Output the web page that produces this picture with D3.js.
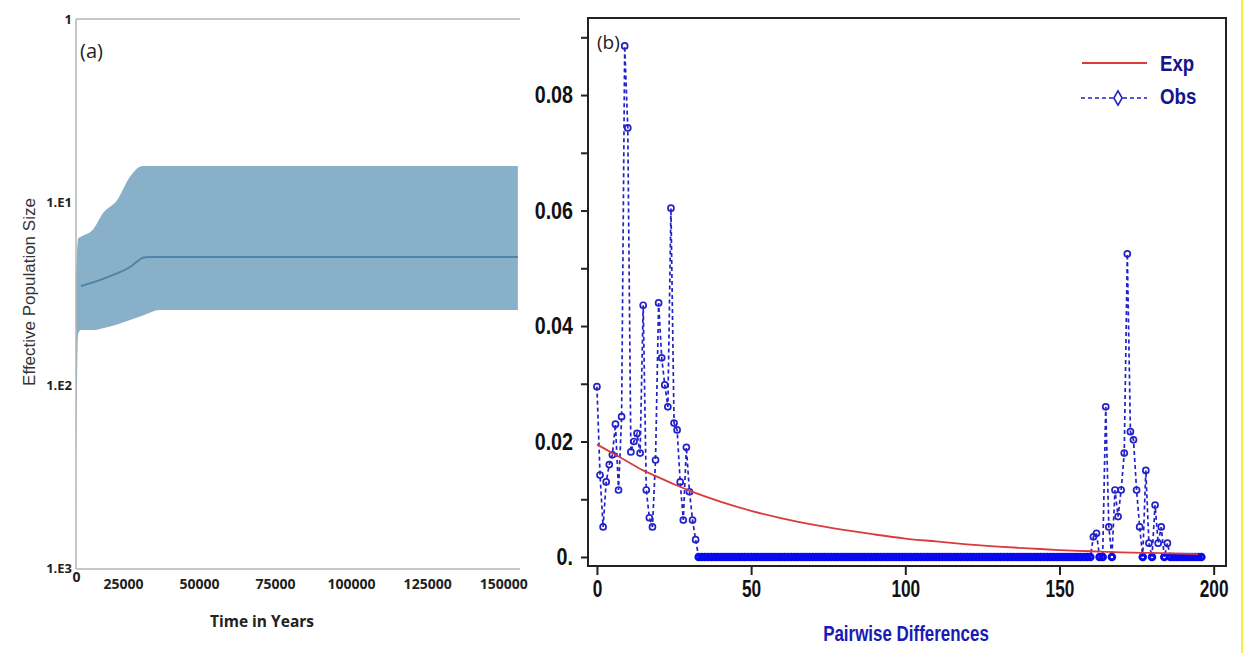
<!DOCTYPE html>
<html>
<head>
<meta charset="utf-8">
<script src="https://cdn.jsdelivr.net/npm/d3@7"></script>
<style>
  body { margin: 0; background: #fff; }
  svg { display: block; }
</style>
</head>
<body>
<div id="chart"></div>
<script>
// ---- panel (a): Bayesian skyline, y in log10 units ----
const skyYears = [0, 700, 1600, 5600, 8900, 13500, 17800, 22000, 27600, 145300];
const skyUpper = [1.40, 1.20, 1.19, 1.15, 1.06, 0.99, 0.86, 0.803, 0.803, 0.803];
const skyLower = [2.75, 1.72, 1.70, 1.70, 1.69, 1.67, 1.645, 1.62, 1.59, 1.59];
const medYears = [1600, 8900, 13500, 17800, 20500, 22000, 24000, 145300];
const medValues = [1.46, 1.42, 1.39, 1.355, 1.32, 1.305, 1.30, 1.30];
const skyYTicks = [0, 1, 2, 3];
const skyYLabels = ['1', '1.E1', '1.E2', '1.E3'];
const skyXTicks = [0, 25000, 50000, 75000, 100000, 125000, 150000];

// ---- panel (b): mismatch distribution ----
const obsHeadX = d3.range(0, 33);
const obsHead = [0.0295, 0.0142, 0.0052, 0.0130, 0.0160, 0.0177, 0.0230, 0.0116, 0.0243, 0.0885,
  0.0743, 0.0182, 0.0200, 0.0214, 0.0180, 0.0436, 0.0116, 0.0068, 0.0052, 0.0168,
  0.0440, 0.0345, 0.0298, 0.0260, 0.0604, 0.0232, 0.0220, 0.0130, 0.0064, 0.0190,
  0.0113, 0.0064, 0.0030];
const obsMidX = d3.range(33, 160);
const obsMid = [
  0, 0, 0, 0, 0, 0, 0, 0, 0, 0, 0, 0, 0, 0, 0, 0, 0, 0, 0, 0, 0, 0, 0, 0, 0, 0, 0, 0, 0, 0, 0, 0,
  0, 0, 0, 0, 0, 0, 0, 0, 0, 0, 0, 0, 0, 0, 0, 0, 0, 0, 0, 0, 0, 0, 0, 0, 0, 0, 0, 0, 0, 0, 0, 0,
  0, 0, 0, 0, 0, 0, 0, 0, 0, 0, 0, 0, 0, 0, 0, 0, 0, 0, 0, 0, 0, 0, 0, 0, 0, 0, 0, 0, 0, 0, 0, 0,
  0, 0, 0, 0, 0, 0, 0, 0, 0, 0, 0, 0, 0, 0, 0, 0, 0, 0, 0, 0, 0, 0, 0, 0, 0, 0, 0, 0, 0, 0, 0];
const obsTailX = d3.range(160, 197);
const obsTail = [0, 0.0035, 0.0041, 0, 0, 0.0260, 0.0052, 0, 0.0116, 0.0070,
  0.0116, 0.0180, 0.0525, 0.0217, 0.0203, 0.0116, 0.0052, 0, 0.0150, 0.0024,
  0, 0.0090, 0.0024, 0.0052, 0, 0.0024, 0, 0, 0, 0,
  0, 0, 0, 0, 0, 0, 0];
const expX = [0, 5, 10, 15, 20, 25, 30, 40, 50, 60, 70, 80, 90, 100, 110, 120, 130, 140, 150, 160, 170, 180, 195];
const expValues = [0.0195, 0.0180, 0.0165, 0.0150, 0.0138, 0.0126, 0.0115, 0.0096, 0.0080, 0.0067, 0.0056,
  0.0047, 0.0039, 0.0032, 0.0027, 0.0022, 0.0018, 0.0015, 0.0012, 0.0010, 0.0008, 0.0007, 0.0005];
const mmYTicks = [0, 0.01, 0.02, 0.03, 0.04, 0.05, 0.06, 0.07, 0.08, 0.09];
const mmXTicks = [0, 50, 100, 150, 200];

const width = 1249;
const height = 653;

const svg = d3.select('#chart')
  .append('svg')
  .attr('width', width)
  .attr('height', height);

svg.append('rect').attr('width', width).attr('height', height).attr('fill', '#fff');

// squeeze text horizontally to fake a narrow font (none installed)
function squeeze(sel, factor) {
  sel.each(function () {
    const w = this.getComputedTextLength();
    if (w > 0) {
      d3.select(this)
        .attr('textLength', w * factor)
        .attr('lengthAdjust', 'spacingAndGlyphs');
    }
  });
}

// ================= panel (a) =================
const xA = d3.scaleLinear().domain([0, 146000]).range([76, 520]);
const yA = d3.scaleLinear().domain([0, 3]).range([19, 568]);

const band = skyYears.map((t, i) => ({ t, hi: skyUpper[i], lo: skyLower[i] }));
const med = medYears.map((t, i) => ({ t, v: medValues[i] }));

svg.append('path')
  .datum(band)
  .attr('fill', '#88b0c9')
  .attr('d', d3.area()
    .x((d) => xA(d.t))
    .y0((d) => yA(d.lo))
    .y1((d) => yA(d.hi))
    .curve(d3.curveMonotoneX));

svg.append('path')
  .datum(med)
  .attr('fill', 'none')
  .attr('stroke', '#4f84a8')
  .attr('stroke-width', 2)
  .attr('d', d3.line()
    .x((d) => xA(d.t))
    .y((d) => yA(d.v))
    .curve(d3.curveMonotoneX));

// frame lines (light grey)
const frameA = svg.append('g').attr('stroke', '#b4b4b4').attr('stroke-width', 1.5);
frameA.append('line').attr('x1', 76).attr('x2', 520).attr('y1', yA(0)).attr('y2', yA(0));
frameA.append('line').attr('x1', 76).attr('x2', 76).attr('y1', yA(0)).attr('y2', 569);
frameA.append('line').attr('x1', 76).attr('x2', 520).attr('y1', 569).attr('y2', 569);

// y axis labels
const yAxisA = svg.append('g')
  .attr('transform', 'translate(76,0)')
  .call(d3.axisLeft(yA).tickValues(skyYTicks).tickSize(0).tickPadding(4)
    .tickFormat((d, i) => skyYLabels[i]));
yAxisA.select('.domain').remove();
yAxisA.selectAll('text')
  .attr('font-family', 'Open Sans, sans-serif')
  .attr('font-weight', 700)
  .attr('font-size', 13)
  .attr('fill', '#222');

// x axis labels
const xAxisA = svg.append('g')
  .attr('transform', 'translate(0,569)')
  .call(d3.axisBottom(xA).tickValues(skyXTicks).tickSize(0).tickPadding(10)
    .tickFormat(d3.format('d')));
xAxisA.select('.domain').remove();
xAxisA.selectAll('text')
  .attr('font-family', 'Open Sans, sans-serif')
  .attr('font-weight', 700)
  .attr('font-size', 14)
  .attr('fill', '#222')
  .attr('dx', (d) => (d === 0 ? 0 : -29))
  .attr('dy', (d) => (d === 0 ? '0.2em' : '0.71em'));

svg.append('text')
  .attr('x', 262).attr('y', 627)
  .attr('text-anchor', 'middle')
  .attr('font-family', 'Open Sans, sans-serif')
  .attr('font-weight', 700)
  .attr('font-size', 15.5)
  .attr('fill', '#222')
  .text('Time in Years');

svg.append('text')
  .attr('transform', 'translate(35,292) rotate(-90)')
  .attr('text-anchor', 'middle')
  .attr('font-family', 'Liberation Sans, Arial, sans-serif')
  .attr('font-size', 17)
  .attr('fill', '#333')
  .text('Effective Population Size');

svg.append('text')
  .attr('x', 80).attr('y', 58)
  .attr('font-family', 'Open Sans, sans-serif')
  .attr('font-size', 20)
  .attr('fill', '#222')
  .text('(a)');

// ================= panel (b) =================
const xB = d3.scaleLinear().domain([-2.9, 204]).range([588, 1226]);
const yB = d3.scaleLinear().domain([0, 0.09]).range([557, 37.3]);

const obs = [
  ...obsHeadX.map((x, i) => ({ x, y: obsHead[i] })),
  ...obsMidX.map((x, i) => ({ x, y: obsMid[i] })),
  ...obsTailX.map((x, i) => ({ x, y: obsTail[i] })),
];
const expData = expX.map((x, i) => ({ x, y: expValues[i] }));

const blue = '#2222c8';

// observed: dashed line + open markers
svg.append('path')
  .datum(obs)
  .attr('fill', 'none')
  .attr('stroke', blue)
  .attr('stroke-width', 1.7)
  .attr('stroke-dasharray', '4,3')
  .attr('d', d3.line().x((d) => xB(d.x)).y((d) => yB(d.y)));

svg.append('g')
  .selectAll('circle')
  .data(obs)
  .join('circle')
  .attr('cx', (d) => xB(d.x))
  .attr('cy', (d) => yB(d.y))
  .attr('r', (d) => (d.y === 0 ? 2.8 : 3))
  .attr('fill', 'none')
  .attr('stroke', (d) => (d.y === 0 ? '#0a0aee' : blue))
  .attr('stroke-width', (d) => (d.y === 0 ? 3 : 1.7));

// expected
svg.append('path')
  .datum(expData)
  .attr('fill', 'none')
  .attr('stroke', '#d83c3c')
  .attr('stroke-width', 1.8)
  .attr('d', d3.line().x((d) => xB(d.x)).y((d) => yB(d.y)).curve(d3.curveMonotoneX));

// box
svg.append('rect')
  .attr('x', 588).attr('y', 18)
  .attr('width', 1226 - 588).attr('height', 566 - 18)
  .attr('fill', 'none')
  .attr('stroke', '#222')
  .attr('stroke-width', 2);

const narrow = 'Liberation Sans, Arial, sans-serif';

// y axis
const yAxisB = svg.append('g')
  .attr('transform', 'translate(588,0)')
  .call(d3.axisLeft(yB).tickValues(mmYTicks).tickSize(7).tickPadding(8)
    .tickFormat((d) => {
      const k = Math.round(d * 100);
      if (k === 0) return '0.';
      return k % 2 === 0 ? d3.format('.2f')(d) : '';
    }));
yAxisB.select('.domain').remove();
yAxisB.selectAll('line').attr('stroke', '#222').attr('stroke-width', 2);
yAxisB.selectAll('text')
  .attr('font-family', narrow)
  .attr('font-size', 24)
  .attr('font-weight', 700)
  .attr('fill', '#111')
  .call(squeeze, 0.82);

// x axis
const xAxisB = svg.append('g')
  .attr('transform', 'translate(0,566)')
  .call(d3.axisBottom(xB).tickValues(mmXTicks).tickSize(9).tickPadding(5));
xAxisB.select('.domain').remove();
xAxisB.selectAll('line').attr('stroke', '#222').attr('stroke-width', 2);
xAxisB.selectAll('text')
  .attr('font-family', narrow)
  .attr('font-size', 24)
  .attr('font-weight', 700)
  .attr('fill', '#111')
  .call(squeeze, 0.72);

svg.append('text')
  .attr('x', 906).attr('y', 641)
  .attr('text-anchor', 'middle')
  .attr('font-family', narrow)
  .attr('font-size', 22)
  .attr('font-weight', 700)
  .attr('fill', '#1a1ab4')
  .text('Pairwise Differences')
  .call(squeeze, 0.77);

svg.append('text')
  .attr('x', 597).attr('y', 49)
  .attr('font-family', 'Open Sans, sans-serif')
  .attr('font-size', 19)
  .attr('fill', '#222')
  .text('(b)');

// legend
const legend = svg.append('g');
legend.append('line')
  .attr('x1', 1082).attr('x2', 1147).attr('y1', 63).attr('y2', 63)
  .attr('stroke', '#d83c3c').attr('stroke-width', 2);
legend.append('line')
  .attr('x1', 1081).attr('x2', 1147).attr('y1', 98).attr('y2', 98)
  .attr('stroke', blue).attr('stroke-width', 1.6).attr('stroke-dasharray', '4,3');
legend.append('path')
  .attr('transform', 'translate(1118,98)')
  .attr('d', d3.symbol(d3.symbolDiamond, 60)())
  .attr('fill', '#fff')
  .attr('stroke', blue)
  .attr('stroke-width', 1.6);
legend.selectAll('text.lab')
  .data(['Exp', 'Obs'])
  .join('text')
  .attr('x', 1160)
  .attr('y', (d, i) => (i === 0 ? 71 : 104))
  .attr('font-family', narrow)
  .attr('font-size', 22)
  .attr('font-weight', 700)
  .attr('fill', '#14148c')
  .text((d) => d)
  .call(squeeze, 0.85);

// thin yellow edge on the far right
svg.append('line')
  .attr('x1', 1242).attr('x2', 1242).attr('y1', 0).attr('y2', height)
  .attr('stroke', '#f5ee3a').attr('stroke-width', 2);
</script>
</body>
</html>
